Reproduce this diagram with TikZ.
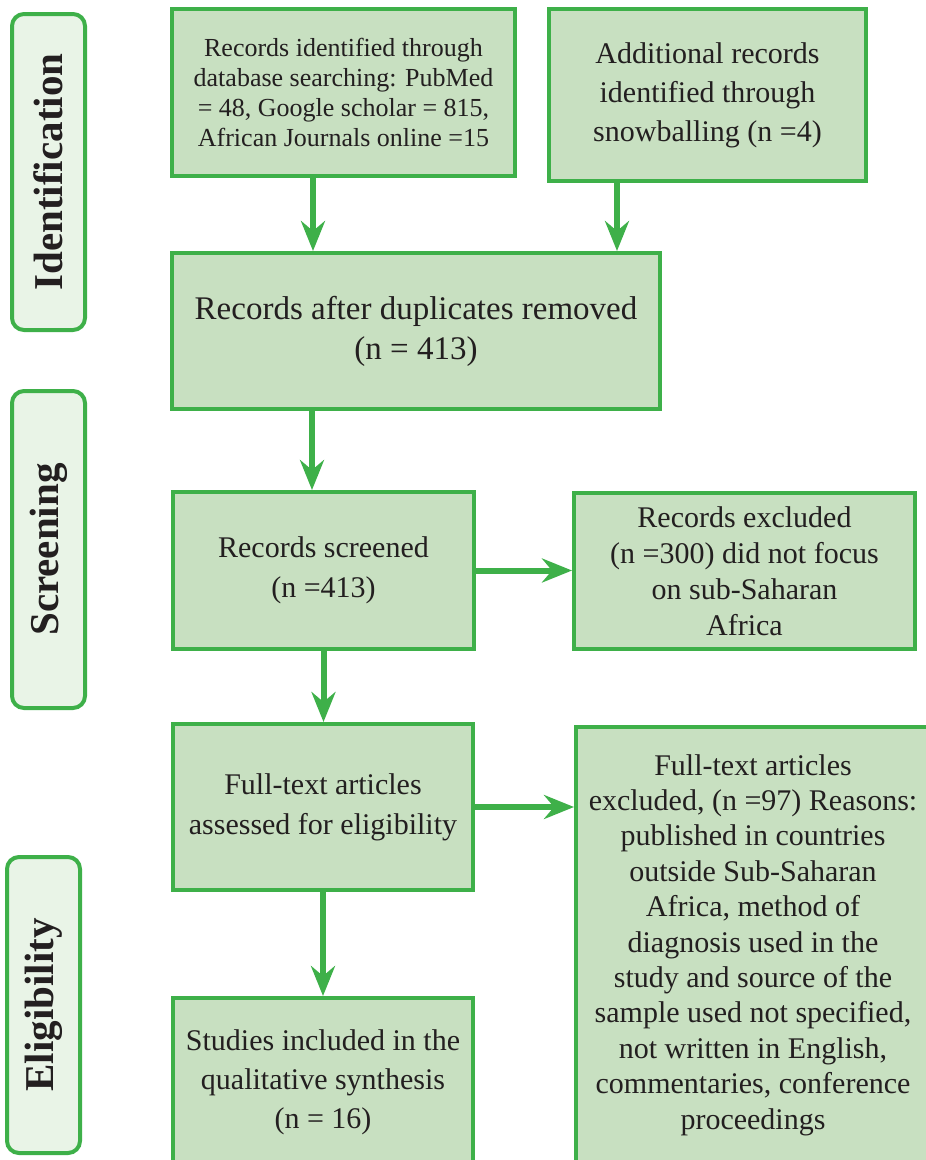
\documentclass[tikz,border=0pt]{standalone}
\usepackage{fontspec}
\setmainfont{Liberation Serif}
\usetikzlibrary{arrows.meta}
\definecolor{G}{HTML}{3EB049}
\definecolor{boxfill}{HTML}{C8E0C1}
\definecolor{labfill}{HTML}{E9F4E7}
\definecolor{txt}{HTML}{231F20}
\begin{document}
\begin{tikzpicture}[x=1pt,y=-1pt,
  box/.style={draw=G, fill=boxfill, line width=4pt, inner sep=0pt, align=center, text=txt, font=\fontsize{30}{39}\selectfont},
  lab/.style={draw=G, fill=labfill, line width=4pt, rounded corners=12pt, rotate=90, inner sep=0pt, text=txt, font=\bfseries\fontsize{41}{41}\selectfont, minimum height=73pt},
  arr/.style={draw=G, line width=6pt, -{Stealth[length=30pt,width=24pt,inset=10pt]}}]
\clip (0,0) rectangle (926,1160);
\fill[white] (0,0) rectangle (926,1160);
% phase labels
\node[lab, minimum width=316pt] (L1) at (48.5,172) {Identification};
\node[lab, minimum width=317pt] (L2) at (48.5,549.5) {Screening};
\node[lab, minimum width=296pt] (L3) at (43.5,1005) {Eligibility};
% boxes
\node[box, minimum width=343pt, minimum height=167pt, font=\fontsize{26}{30.3}\selectfont] (b1) at (343.5,92.5)
  {Records identified through\\database searching: PubMed\\= 48, Google scholar = 815,\\African Journals online =15};
\node[box, minimum width=317pt, minimum height=172pt] (b2) at (707.5,95)
  {Additional records\\identified through\\snowballing (n =4)};
\node[box, minimum width=488pt, minimum height=156pt, font=\fontsize{33}{40}\selectfont] (b3) at (416,331)
  {Records after duplicates removed\\(n = 413)};
\node[box, minimum width=301pt, minimum height=157pt, font=\fontsize{30}{40}\selectfont] (b4) at (323.5,570.5)
  {Records screened\\(n =413)};
\node[box, minimum width=341pt, minimum height=156pt, font=\fontsize{30}{36}\selectfont] (b5) at (744.5,571)
  {Records excluded\\(n =300) did not focus\\on sub-Saharan\\Africa};
\node[box, minimum width=300pt, minimum height=166pt, font=\fontsize{30}{40}\selectfont] (b6) at (323,807)
  {Full-text articles\\assessed for eligibility};
\node[box, minimum width=354pt, minimum height=436pt, font=\fontsize{30}{35.4}\selectfont] (b7) at (753,945)
  {Full-text articles\\excluded, (n =97) Reasons:\\published in countries\\outside Sub-Saharan\\Africa, method of\\diagnosis used in the\\study and source of the\\sample used not specified,\\not written in English,\\commentaries, conference\\proceedings};
\node[box, minimum width=300pt, minimum height=168pt] (b8) at (323,1082)
  {Studies included in the\\qualitative synthesis\\(n = 16)};
% arrows
\coordinate (xa) at (313,0);
\coordinate (xb) at (617,0);
\coordinate (xc) at (312,0);
\draw[arr] (b1.south -| xa) -- (b3.north -| xa);
\draw[arr] (b2.south -| xb) -- (b3.north -| xb);
\draw[arr] (b3.south -| xc) -- (b4.north -| xc);
\draw[arr] (b4.south) -- (b4.south |- b6.north);
\draw[arr] (b6.south) -- (b6.south |- b8.north);
\draw[arr] (b4.east) -- (b4.east -| b5.west);
\draw[arr] (b6.east) -- (b6.east -| b7.west);
\end{tikzpicture}
\end{document}
